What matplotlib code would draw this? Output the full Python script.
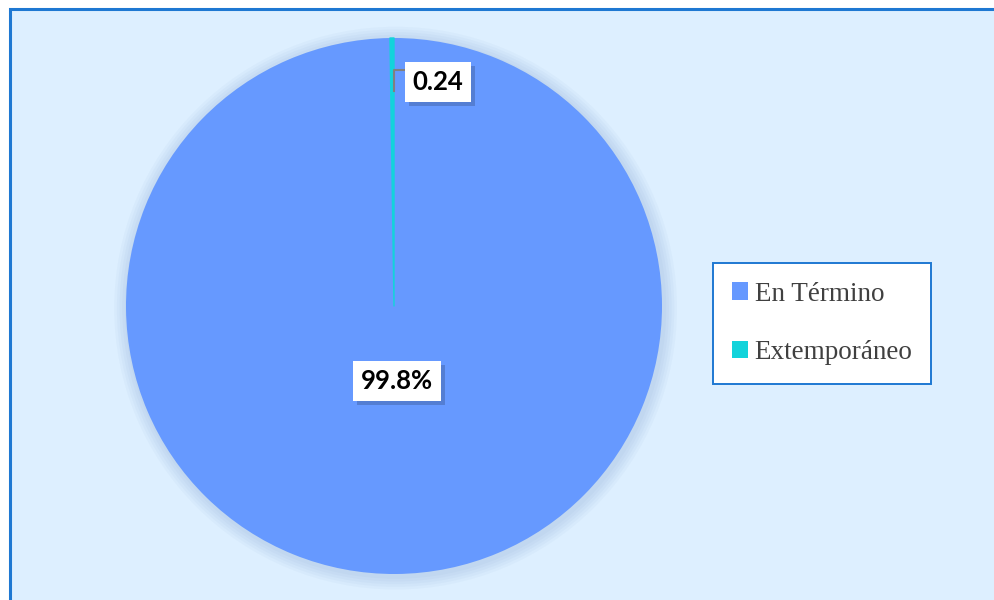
import matplotlib
matplotlib.use("Agg")
import matplotlib.pyplot as plt
from matplotlib.patches import Rectangle, Circle

categories = ["En Término", "Extemporáneo"]
values = [99.76, 0.24]
value_labels = ["99.8%", "0.24"]
colors = ["#6699FF", "#12D3DB"]

W, H = 994, 600
fig = plt.figure(figsize=(W / 100, H / 100), dpi=100)
fig.patch.set_facecolor("white")

# chart area frame (cut off at right / bottom like the screenshot)
fig.patches.append(Rectangle((10 / W, -0.05), 1.1, 1 - 9 / H + 0.05,
                             transform=fig.transFigure, facecolor="#DDEFFF",
                             edgecolor="#1E78D2", linewidth=2.2, zorder=-5))

cx, cy, r = 394, 306, 268
ax = fig.add_axes([(cx - r) / W, (H - cy - r) / H, 2 * r / W, 2 * r / H])
ax.set_zorder(2)

wedges, _ = ax.pie(values, colors=colors, startangle=90, counterclock=False,
                   radius=1.0, wedgeprops=dict(linewidth=0, zorder=2))
# thin slice gets a light outline in its own colour so it stays visible
wedges[1].set_edgecolor(colors[1])
wedges[1].set_linewidth(1.0)
wedges[1].set_joinstyle("round")
ax.set_xlim(-1, 1)
ax.set_ylim(-1, 1)
ax.set_aspect("equal")
ax.axis("off")

# soft shadow behind the pie
for i in range(5):
    ax.add_patch(Circle((0.006, -0.008), 1.0 + 0.01 * (i + 1), facecolor="#3060a0",
                        alpha=0.03, edgecolor="none", zorder=1, clip_on=False))

def px(x, y):
    # pixel coords of the figure -> data coords of the pie axes
    return ((x - cx) / r, (cy - y) / r)

def boxed(x, y, s):
    sx, sy = px(x + 4, y + 4)
    ax.text(sx, sy, s, ha="center", va="center", fontsize=18.5, fontweight="bold",
            family="Lato", color=(0, 0, 0, 0),
            bbox=dict(boxstyle="square,pad=0.3", facecolor="#203050", alpha=0.25,
                      edgecolor="none"), zorder=4, clip_on=False)
    tx, ty = px(x, y)
    ax.text(tx, ty, s, ha="center", va="center", fontsize=18.5, fontweight="bold",
            family="Lato", color="black",
            bbox=dict(boxstyle="square,pad=0.3", facecolor="white", edgecolor="none"),
            zorder=5, clip_on=False)

boxed(397, 381, value_labels[0])

# leader line for the thin slice
lx0, ly0 = px(394, 91)
lx1, ly1 = px(394, 70)
lx2, ly2 = px(406, 70)
ax.plot([lx0, lx1, lx2], [ly0, ly1, ly2], color="#808080", lw=1.5, zorder=3)
boxed(438, 82, value_labels[1])

leg = fig.legend(wedges, categories, loc="center",
                 bbox_to_anchor=((713 + 931) / 2 / W, 1 - (263 + 384) / 2 / H),
                 frameon=True, fancybox=False, framealpha=1,
                 prop=dict(family="Liberation Serif", size=19.5),
                 handlelength=0.6, handleheight=0.6, handletextpad=0.25,
                 labelspacing=1.25, borderpad=0.7, borderaxespad=0)
leg.get_frame().set_edgecolor("#1E78D2")
leg.get_frame().set_facecolor("white")
leg.get_frame().set_linewidth(1.4)
for h in leg.legend_handles:
    h.set_linewidth(0)
for t in leg.get_texts():
    t.set_color("#404040")

fig.savefig("out.png", dpi=100)
